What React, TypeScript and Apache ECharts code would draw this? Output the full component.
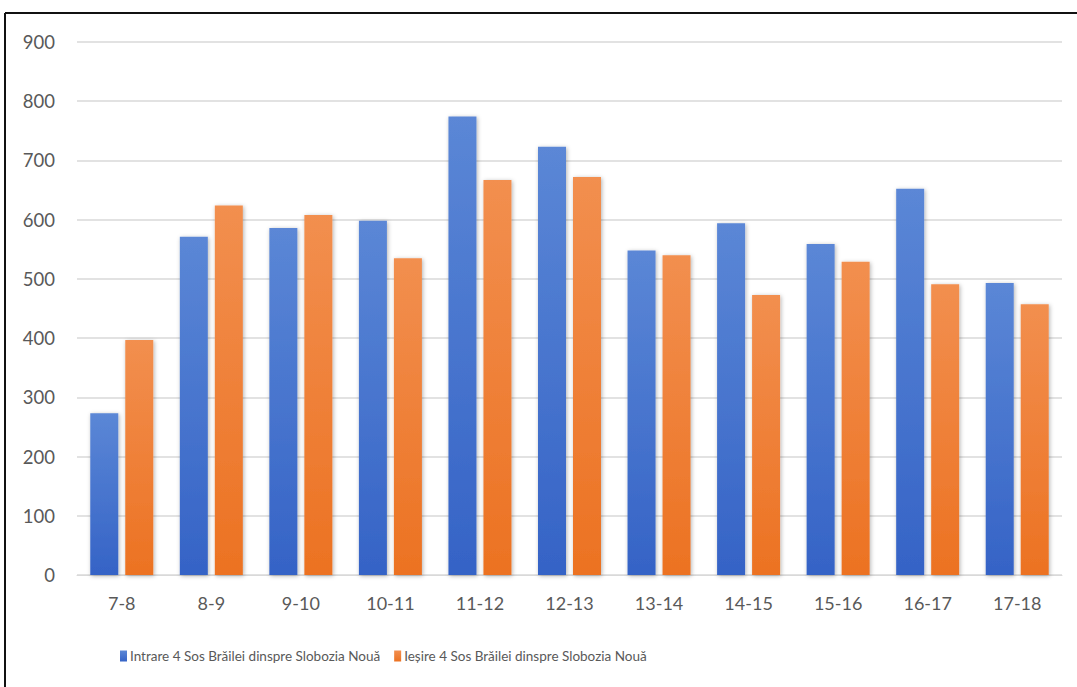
import React, { useEffect, useRef } from "react";
import * as echarts from "echarts";

const categories = ["7-8", "8-9", "9-10", "10-11", "11-12", "12-13", "13-14", "14-15", "15-16", "16-17", "17-18"];
const intrare = [273, 571, 586, 598, 774, 723, 548, 594, 559, 652, 493];
const iesire = [397, 624, 608, 535, 667, 672, 540, 473, 529, 491, 457];
const seriesNames = ["Intrare 4 Sos Brăilei dinspre Slobozia Nouă", "Ieșire 4 Sos Brăilei dinspre Slobozia Nouă"];

const FONT = "Lato, 'Open Sans', sans-serif";

export default function App() {
  const ref = useRef<HTMLDivElement>(null);
  useEffect(() => {
    const chart = echarts.init(ref.current!, null, { renderer: "svg" });
    const grad = (top: string, bottom: string) =>
      new echarts.graphic.LinearGradient(0, 0, 0, 1, [
        { offset: 0, color: top },
        { offset: 1, color: bottom },
      ]);
    const shadow = {
      shadowBlur: 4,
      shadowColor: "rgba(0,0,0,0.3)",
      shadowOffsetX: 1,
      shadowOffsetY: 1,
    };
    chart.setOption({
      animation: false,
      backgroundColor: "#ffffff",
      grid: { left: 77, right: 15, top: 42, bottom: 112, containLabel: false },
      legend: {
        top: 644,
        left: 115,
        itemWidth: 7,
        itemHeight: 11,
        itemGap: 14,
        icon: "rect",
        textStyle: { color: "#595959", fontSize: 13.5, fontFamily: FONT, padding: [0, 0, 0, -2] },
        data: seriesNames,
      },
      xAxis: {
        type: "category",
        data: categories,
        axisLine: { show: true, lineStyle: { color: "#d9d9d9", width: 1 } },
        axisTick: { show: false },
        axisLabel: { color: "#595959", fontSize: 18, fontFamily: FONT, margin: 19 },
      },
      yAxis: {
        type: "value",
        min: 0,
        max: 900,
        interval: 100,
        axisLine: { show: false },
        axisTick: { show: false },
        splitLine: { lineStyle: { color: "#d9d9d9", width: 1.5 } },
        axisLabel: { color: "#595959", fontSize: 18.5, fontFamily: FONT, margin: 22 },
      },
      series: [
        {
          name: seriesNames[0],
          type: "bar",
          data: intrare,
          barWidth: 28,
          barGap: "25%",
          itemStyle: { color: grad("#5b87d6", "#3563c6"), ...shadow },
        },
        {
          name: seriesNames[1],
          type: "bar",
          data: iesire,
          barWidth: 28,
          itemStyle: { color: grad("#f28f4f", "#ec7222"), ...shadow },
        },
      ],
      graphic: [
        { type: "line", shape: { x1: 5, y1: 13, x2: 1077, y2: 13 }, style: { stroke: "#111", lineWidth: 2 } },
        { type: "line", shape: { x1: 5, y1: 13, x2: 5, y2: 687 }, style: { stroke: "#111", lineWidth: 2 } },
      ],
    });
    return () => chart.dispose();
  }, []);
  return (
    <div
      ref={ref}
      style={{ position: "fixed", left: 0, top: 0, width: 1077, height: 687 }}
    />
  );
}
